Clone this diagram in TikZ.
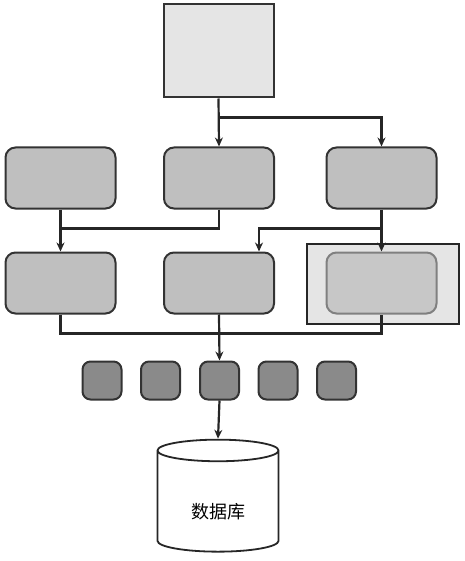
\documentclass[tikz,border=0pt]{standalone}
\usepackage{fontspec}
\newfontfamily\cjk{Noto Sans CJK SC}
\usetikzlibrary{arrows.meta}
\usetikzlibrary{calc}
\usetikzlibrary{shapes.geometric}

\begin{document}
\begin{tikzpicture}[x=1pt,y=-1pt,
        box/.style={draw=black!80, line width=2pt, fill=black!25, rounded corners=10pt, minimum width=110pt, minimum height=61pt, inner sep=0pt},
        small/.style={draw=black!80, line width=2pt, fill=black!46, rounded corners=8pt, minimum width=39pt, minimum height=38pt, inner sep=0pt},
        conn/.style={draw=black!85, line width=2.2pt},
        arr/.style={conn, -{Stealth[length=9pt,width=8pt]}}]
        \useasboundingbox (0,0) rectangle (464,561);
        % source
        \node[draw=black!80, line width=2pt, fill=black!10, minimum width=110pt, minimum height=93pt] (src) at (218.5,51) {};
        % first row
        \node[box] (l1) at (60.5,178) {};
        \node[box] (m1) at (219,178) {};
        \node[box] (r1) at (381.5,178) {};
        % second row, right one is highlighted
        \node[box] (l2) at (60.5,283) {};
        \node[box] (m2) at (219,283) {};
        \node[draw=black!85, line width=2pt, fill=black!10, minimum width=152pt, minimum height=80pt] (grp) at (382.5,283.5) {};
        \node[box, draw=black!50, fill=black!22] (r2) at (381.5,283) {};
        % small blocks
        \foreach \i/\x in {1/102, 2/160.5, 3/219.5, 4/278, 5/336.5}
            \node[small] (s\i) at (\x,380.5) {};
        % database
        \node[cylinder, shape border rotate=90, shape aspect=0.4, draw=black!85, line width=1.8pt, fill=white, minimum width=121pt, minimum height=112pt, inner sep=0pt] (db) at (218,501.5) {\cjk\fontsize{18}{20}\selectfont\phantom{数据库}};
        \node[font=\cjk\fontsize{18}{20}\selectfont] (dbname) at ($(db.center)+(0,10)$) {数据库};

        \draw[arr] (src.south) -- (m1.north);
        \draw[arr] ($(src.south)+(0,19)$) -| (r1.north);
        \draw[arr] (l1.south) -- (l2.north);
        \draw[conn] (m1.south) |- ($(l1.south)+(0,19)$);
        \draw[arr] (r1.south) -- (r2.north);
        \draw[arr] ($(r1.south)+(0,19)$) -| ($(m2.north)+(40,0)$);
        \draw[conn] (l2.south) -- ++(0,19) -| (r2.south);
        \draw[arr] (m2.south) -- (s3.north);
        \draw[arr] (s3.south) -- (db.north);
\end{tikzpicture}
\end{document}
